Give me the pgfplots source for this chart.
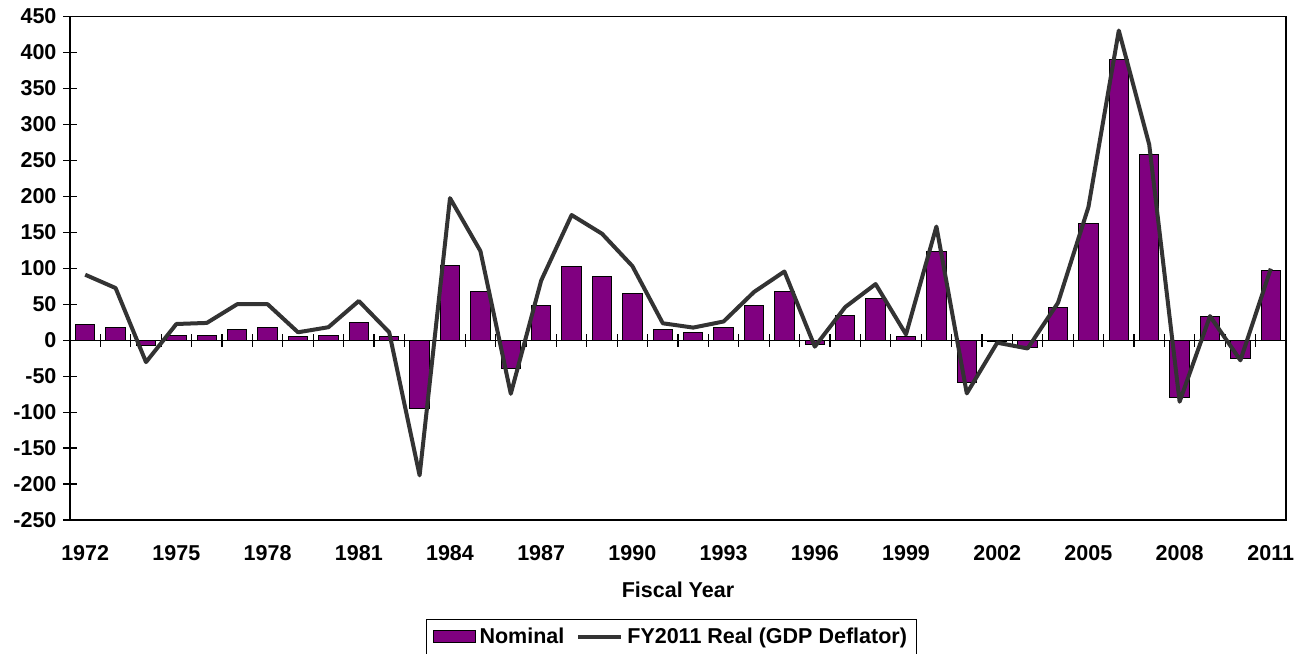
\documentclass[border=0pt]{standalone}
\usepackage{fontspec}
\setmainfont{Liberation Sans}
\usepackage{pgfplots}
\pgfplotsset{compat=1.18}
\usepackage{pgfplotstable}

\definecolor{nombar}{HTML}{800080}
\definecolor{realline}{HTML}{333333}

% Annual change, nominal and FY2011 real dollars
\pgfplotstableread{
idx year nominal real
0  1972  22     91
1  1973  17.5   72.5
2  1974  -8     -30.5
3  1975  6.5    22.5
4  1976  6.5    24
5  1977  15     50
6  1978  17.5   50
7  1979  4.5    11
8  1980  6.5    18
9  1981  24     54.5
10 1982  4.5    11
11 1983  -95.5  -188
12 1984  104    197.5
13 1985  67     124
14 1986  -39    -74.5
15 1987  48     83
16 1988  102    174
17 1989  89     148
18 1990  65     103
19 1991  15     23.5
20 1992  10.5   17.5
21 1993  17     26
22 1994  48     67
23 1995  67     95.5
24 1996  -6.5   -9
25 1997  35     46
26 1998  58.5   78
27 1999  4.5    8
28 2000  123.5  158
29 2001  -58.5  -74
30 2002  -1.5   -3.5
31 2003  -9.5   -11.5
32 2004  46     52
33 2005  162.5  185
34 2006  390    430.5
35 2007  258    272
36 2008  -80    -85.5
37 2009  33     33.5
38 2010  -26    -28
39 2011  97     99.5
}\budget

\newcommand\chartfont{\fontsize{10.75}{12.5}\selectfont\bfseries}

\pgfplotsset{
  frame/.style={
    at={(0,0)}, anchor=south west, scale only axis,
    width=608pt, height=251.75pt,
    xmin=-0.5, xmax=39.5, ymin=-250, ymax=450,
  },
  barkey/.style={legend image code/.code={\draw[##1] (0pt,-3pt) rectangle (21pt,3pt);}},
  linekey/.style={legend image code/.code={\draw[##1] (0pt,0pt) -- (21.5pt,0pt);}},
}

\begin{document}
\begin{tikzpicture}
\useasboundingbox (-35pt,-66.5pt) rectangle (617pt,260pt);

% zero line with ticks between the years
\begin{axis}[frame,
  axis x line=middle, axis y line=none,
  x axis line style={-, black, line width=0.6pt},
  xtick={0.5,1.5,...,38.5}, xticklabels={},
  tick align=center, major tick length=6.5pt,
  x tick style={black, line width=0.65pt},
]
\end{axis}

\begin{axis}[frame,
  axis line style={black, line width=0.6pt},
  xtick={0,3,...,39},
  xticklabels={1972,1975,1978,1981,1984,1987,1990,1993,1996,1999,2002,2005,2008,2011},
  x tick style={draw=none},
  ytick={-250,-200,...,450}, ytick pos=left,
  tick align=center, major tick length=6.5pt,
  y tick style={black, line width=0.6pt},
  tick label style={font=\chartfont},
  xticklabel style={yshift=-6pt},
  /pgf/number format/assume math mode=true,
  xlabel={Fiscal Year},
  xlabel style={font=\chartfont, at={(axis description cs:0.5,-0.139)}, anchor=center},
  legend columns=2,
  legend style={at={(0.2928,-0.1966)}, anchor=north west,
    draw=black, line width=0.5pt, font=\chartfont,
    inner xsep=3pt, inner ysep=2pt,
    /tikz/every even column/.append style={column sep=4pt}},
]
\addplot[ybar, bar width=0.635, fill=nombar, draw=black, line width=0.5pt, barkey]
  table[x=idx, y=nominal]{\budget};
\addlegendentry{Nominal}
\addplot[realline, line width=2pt, line join=round, linekey]
  table[x=idx, y=real]{\budget};
\addlegendentry{FY2011 Real (GDP Deflator)}
\end{axis}
\end{tikzpicture}
\end{document}
